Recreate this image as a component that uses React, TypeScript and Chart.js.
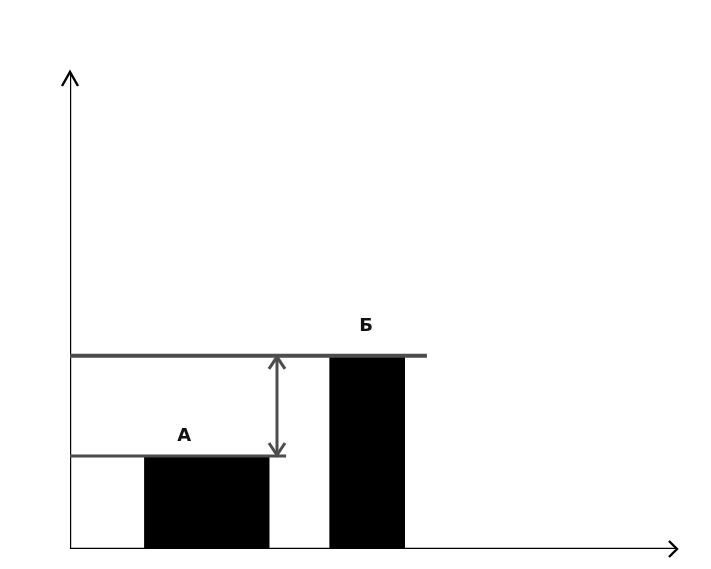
import React, { useEffect, useRef } from "react";
import { Chart, registerables } from "chart.js";

Chart.register(...registerables);

// Data (x: 0..100 along horizontal axis, y: 0..100 along vertical axis)
const barNames = ["А", "Б"];
const barStarts = [12.2, 42.7];
const barEnds = [32.9, 55.2];
const barHeights = [19.5, 40.5];
const levelLineEnds = [35.6, 58.8];
const labelX = [18.8, 48.8];
const labelY = [23.6, 46.6];
const diffArrowX = 34.1;
const axisMax = 100;

const GRAY = "#4d4d4d";

const overlayPlugin = {
  id: "overlay",
  afterDatasetsDraw(chart: any) {
    const { ctx, scales } = chart;
    const xs = scales.x;
    const ys = scales.y;
    const px = (v: number) => xs.getPixelForValue(v);
    const py = (v: number) => ys.getPixelForValue(v);
    ctx.save();
    ctx.lineCap = "butt";
    ctx.lineJoin = "miter";
    // axis arrowheads
    ctx.strokeStyle = "#000";
    ctx.lineWidth = 2.4;
    const ox = px(0), oy = py(0);
    const ty = py(axisMax), tx = px(axisMax);
    ctx.beginPath();
    ctx.moveTo(ox - 8, ty + 14);
    ctx.lineTo(ox, ty);
    ctx.lineTo(ox + 8, ty + 14);
    ctx.stroke();
    ctx.beginPath();
    ctx.moveTo(tx - 8, oy - 8);
    ctx.lineTo(tx, oy);
    ctx.lineTo(tx - 8, oy + 8);
    ctx.stroke();
    // difference arrow heads
    ctx.strokeStyle = GRAY;
    ctx.lineWidth = 3;
    const ax = px(diffArrowX);
    const yTop = py(barHeights[1]);
    const yBot = py(barHeights[0]);
    ctx.beginPath();
    ctx.moveTo(ax - 8, yTop + 13);
    ctx.lineTo(ax, yTop + 1);
    ctx.lineTo(ax + 8, yTop + 13);
    ctx.stroke();
    ctx.beginPath();
    ctx.moveTo(ax - 8, yBot - 13);
    ctx.lineTo(ax, yBot - 1);
    ctx.lineTo(ax + 8, yBot - 13);
    ctx.stroke();
    // labels
    ctx.fillStyle = "#111";
    ctx.font = "bold 18px 'DejaVu Sans', sans-serif";
    ctx.textAlign = "center";
    ctx.textBaseline = "middle";
    barNames.forEach((n, i) => {
      ctx.fillText(n, px(labelX[i]), py(labelY[i]));
    });
    ctx.restore();
  },
};

export default function App() {
  const ref = useRef<HTMLCanvasElement | null>(null);
  useEffect(() => {
    if (!ref.current) return;
    const lineSets: any[] = [];
    // level lines (on top)
    barNames.forEach((_, i) => {
      lineSets.push({
        data: [
          { x: 0, y: barHeights[i] },
          { x: levelLineEnds[i], y: barHeights[i] },
        ],
        borderColor: GRAY,
        borderWidth: i === 1 ? 4 : 3,
        pointRadius: 0,
        fill: false,
      });
    });
    // difference arrow shaft
    lineSets.push({
      data: [
        { x: diffArrowX, y: barHeights[0] },
        { x: diffArrowX, y: barHeights[1] },
      ],
      borderColor: GRAY,
      borderWidth: 3,
      pointRadius: 0,
      fill: false,
    });
    // axes
    lineSets.push({
      data: [
        { x: 0, y: 0 },
        { x: 0, y: axisMax },
      ],
      borderColor: "#000",
      borderWidth: 2.4,
      pointRadius: 0,
      fill: false,
    });
    lineSets.push({
      data: [
        { x: 0, y: 0 },
        { x: axisMax, y: 0 },
      ],
      borderColor: "#000",
      borderWidth: 2.4,
      pointRadius: 0,
      fill: false,
    });
    // bars (bottom)
    barNames.forEach((_, i) => {
      lineSets.push({
        data: [
          { x: barStarts[i], y: 0 },
          { x: barStarts[i], y: barHeights[i] },
          { x: barEnds[i], y: barHeights[i] },
          { x: barEnds[i], y: 0 },
        ],
        borderColor: "#000",
        borderWidth: 0,
        backgroundColor: "#000",
        pointRadius: 0,
        fill: "origin",
      });
    });
    const chart = new Chart(ref.current, {
      type: "line",
      data: { datasets: lineSets },
      options: {
        animation: false,
        responsive: false,
        maintainAspectRatio: false,
        layout: { padding: { left: 62, right: 26, top: 64, bottom: 12 } },
        scales: {
          x: { type: "linear", min: 0, max: axisMax, display: false },
          y: { type: "linear", min: 0, max: axisMax, display: false },
        },
        plugins: { legend: { display: false }, tooltip: { enabled: false } },
        elements: { line: { tension: 0 } },
      },
      plugins: [overlayPlugin],
    });
    return () => chart.destroy();
  }, []);
  return (
    <div style={{ width: 695, height: 553 }}>
      <canvas ref={ref} width={695} height={553} style={{ display: "block" }} />
    </div>
  );
}
